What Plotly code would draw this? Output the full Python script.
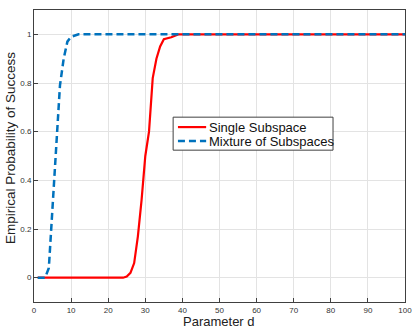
import plotly.graph_objects as go

# parameter d values
d_vals = list(range(1, 101))

# empirical probability of success
single_head = [0, 0, 0, 0, 0, 0, 0, 0, 0, 0, 0, 0, 0, 0, 0, 0, 0, 0, 0, 0, 0, 0, 0, 0,
               0.005, 0.02, 0.06, 0.17, 0.32, 0.5, 0.6, 0.82, 0.9, 0.95, 0.98, 0.983,
               0.988, 0.994, 1.0]
single_subspace = single_head + [1.0] * (100 - len(single_head))

mixture_head = [0, 0, 0, 0.04, 0.3, 0.56, 0.79, 0.9, 0.97, 0.99, 0.995, 1.0]
mixture_subspaces = mixture_head + [1.0] * (100 - len(mixture_head))

series_names = ['Single Subspace', 'Mixture of Subspaces']
x_title = 'Parameter d'
y_title = 'Empirical Probability of Success'
red = '#ff0000'
blue = '#0072bd'
blue_dash = '7px,4px'

fig = go.Figure()
fig.add_trace(go.Scatter(x=d_vals, y=single_subspace, mode='lines', name=series_names[0],
                         line=dict(color=red, width=2.2), showlegend=False))
fig.add_trace(go.Scatter(x=d_vals, y=mixture_subspaces, mode='lines', name=series_names[1],
                         line=dict(color=blue, width=2.5, dash=blue_dash), showlegend=False))

axis_style = dict(showline=True, linecolor='#404040', linewidth=1, mirror=True,
                  ticks='inside', ticklen=4, tickcolor='#404040',
                  showgrid=True, gridcolor='#e3e3e3', gridwidth=1, zeroline=False,
                  tickfont=dict(size=8, color='#333333'), automargin=False)

fig.update_xaxes(range=[0, 100], dtick=10, **axis_style)
fig.update_yaxes(range=[-0.1, 1.1], tickvals=[0, 0.2, 0.4, 0.6, 0.8, 1],
                 ticktext=['0', '0.2', '0.4', '0.6', '0.8', '1'], **axis_style)

# axis titles as annotations, placed like the original
fig.add_annotation(x=0.499, y=-0.067, xref='paper', yref='paper', text=x_title, showarrow=False,
                   xanchor='center', yanchor='middle', font=dict(size=13, color='#222'))
fig.add_annotation(x=-0.065, y=0.527, xref='paper', yref='paper', text=y_title, showarrow=False,
                   textangle=-90, xanchor='center', yanchor='middle', font=dict(size=13.5, color='#222'))

# legend box drawn by hand so it stays as compact as the original
fig.add_shape(type='rect', xref='paper', yref='paper', x0=0.375, x1=0.806, y0=0.52, y1=0.633,
              fillcolor='white', line=dict(color='#404040', width=1), layer='above')
fig.add_shape(type='line', xref='paper', yref='paper', x0=0.388, x1=0.464, y0=0.599, y1=0.599,
              line=dict(color=red, width=2.2), layer='above')
fig.add_shape(type='line', xref='paper', yref='paper', x0=0.388, x1=0.464, y0=0.551, y1=0.551,
              line=dict(color=blue, width=2.5, dash=blue_dash), layer='above')
for name, ypos in zip(series_names, [0.599, 0.551]):
    fig.add_annotation(x=0.466, y=ypos, xref='paper', yref='paper', text=name, showarrow=False,
                       xanchor='left', yanchor='middle', font=dict(size=13, color='#111'))

fig.update_layout(
    width=415, height=333,
    margin=dict(l=34, r=10, t=10, b=31),
    paper_bgcolor='white', plot_bgcolor='white',
    font=dict(family='Liberation Sans, Arial, sans-serif'),
)

fig.write_html("out.html", config={'displayModeBar': False},
               post_script="document.body.style.margin='0';")
